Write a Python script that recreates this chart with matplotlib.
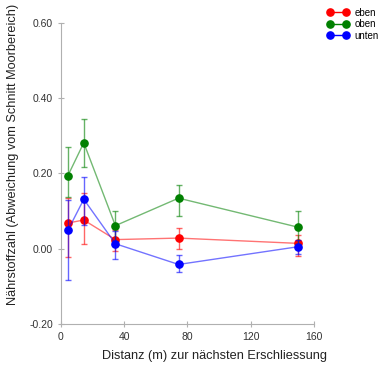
import numpy as np
import matplotlib
matplotlib.use("Agg")
import matplotlib.pyplot as plt

plt.rcParams["font.family"] = ["Liberation Sans", "DejaVu Sans"]

# distance to nearest access road (m)
distanz = [4.5, 14.5, 34.5, 74.5, 150]

series_names = ["eben", "oben", "unten"]
series_colors = ["#ff0000", "#008000", "#0000ff"]

eben_mean = [0.068, 0.076, 0.024, 0.028, 0.014]
eben_low = [-0.023, 0.012, -0.005, -0.001, -0.019]
eben_high = [0.135, 0.148, 0.050, 0.054, 0.035]

oben_mean = [0.194, 0.281, 0.061, 0.134, 0.057]
oben_low = [0.138, 0.216, 0.021, 0.087, 0.013]
oben_high = [0.270, 0.344, 0.101, 0.169, 0.101]

unten_mean = [0.049, 0.131, 0.013, -0.042, 0.005]
unten_low = [-0.082, 0.062, -0.027, -0.061, -0.015]
unten_high = [0.130, 0.190, 0.046, -0.018, 0.024]

means = [eben_mean, oben_mean, unten_mean]
lows = [eben_low, oben_low, unten_low]
highs = [eben_high, oben_high, unten_high]

fig = plt.figure(figsize=(3.78, 3.68), dpi=100)
ax = fig.add_axes([0.161, 0.1196, 0.669, 0.819])

handles = []
for name, col, m, lo, hi in zip(series_names, series_colors, means, lows, highs):
    m = np.array(m)
    yerr = [m - np.array(lo), np.array(hi) - m]
    ax.errorbar(distanz, m, yerr=yerr, fmt="none", ecolor=col, elinewidth=1.0,
                capsize=2.5, capthick=1.0, alpha=0.6)
    ax.plot(distanz, m, "-", color=col, lw=1.0, alpha=0.55)
    ax.plot(distanz, m, "o", color=col, markersize=5.2)
    h, = ax.plot([], [], "o-", color=col, lw=1.0, markersize=5.2)
    handles.append(h)

ax.set_xlim(0, 160)
ax.set_ylim(-0.2, 0.6)
ax.set_xticks([0, 40, 80, 120, 160])
ax.set_yticks([-0.2, 0.0, 0.2, 0.4, 0.6])
ax.set_yticklabels([f"{v:.2f}" for v in [-0.2, 0.0, 0.2, 0.4, 0.6]])

for s in ["top", "right"]:
    ax.spines[s].set_visible(False)
for s in ["left", "bottom"]:
    ax.spines[s].set_color("#b0b0b0")
    ax.spines[s].set_linewidth(0.8)
ax.tick_params(direction="inout", length=5, width=0.8, color="#b0b0b0",
               labelsize=7.5, labelcolor="#333333")
ax.tick_params(axis="x", pad=3)
ax.tick_params(axis="y", pad=3)

ax.set_xlabel("Distanz (m) zur nächsten Erschliessung", fontsize=9.2, color="#222222")
ax.set_ylabel("Nährstoffzahl (Abweichung vom Schnitt Moorbereich)", fontsize=9.2, color="#222222")
ax.xaxis.set_label_coords(0.609, -0.085)
ax.yaxis.set_label_coords(-0.165, 0.563)

fig.legend(handles, series_names, loc="upper left", bbox_to_anchor=(0.85, 0.995),
           frameon=False, numpoints=2, handlelength=2.2, handletextpad=0.6,
           labelspacing=0.15, fontsize=7, borderaxespad=0.2)

fig.savefig("out.png", dpi=100)
